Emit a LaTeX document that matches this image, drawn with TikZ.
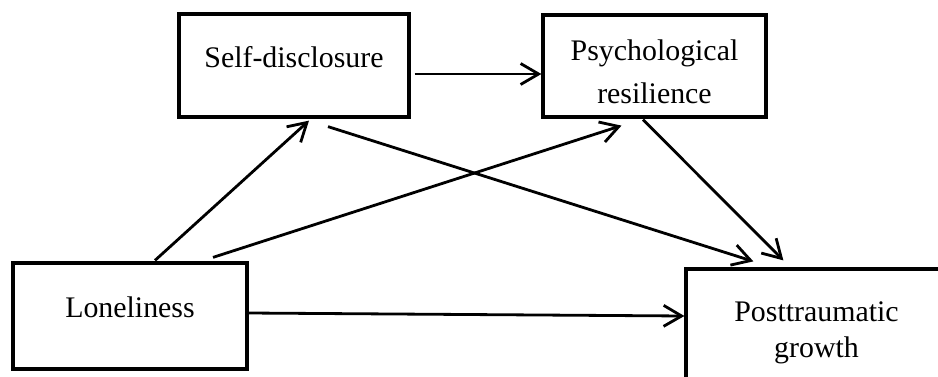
\documentclass[tikz,border=0pt]{standalone}
\usepackage{fontspec}
\setmainfont{Liberation Serif}
\usetikzlibrary{arrows.meta}

\begin{document}
\begin{tikzpicture}[
	every node/.style={font=\fontsize{17pt}{24.5pt}\selectfont},
	box/.style={draw, line width=0.065cm, inner sep=0pt},
	arr/.style={line width=0.056cm, -{Straight Barb[length=0.36cm, width=0.42cm]}}]
	\useasboundingbox (0,0) rectangle (18.76,7.52);
	\clip (0,0) rectangle (18.76,7.52);
	% boxes
	\node[box, minimum width=4.6cm, minimum height=2.06cm, text height=0.4cm, text depth=0.33cm] (self) at (5.88,6.21) {Self-disclosure};
	\node[box, minimum width=4.46cm, minimum height=2.04cm, align=center] (psych) at (13.09,6.2) {\rule{0pt}{0.64cm}Psychological\\resilience};
	\node[box, minimum width=4.68cm, minimum height=2.12cm, text height=0.4cm, text depth=0.33cm] (lone) at (2.6,1.2) {Loneliness};
	\node[box, minimum width=5.22cm, minimum height=2.56cm, align=center, font=\fontsize{17pt}{20.5pt}\selectfont] (ptg) at (16.33,0.86) {Posttraumatic\\growth};
	% paths
	\coordinate (sp) at ([xshift=0.08cm, yshift=-0.17cm]self.east);
	\draw[arr] (sp) -- (sp -| psych.west);
	\draw[arr] ([xshift=0.5cm, yshift=0.02cm]lone.north) -- ([xshift=0.3cm, yshift=-0.04cm]self.south);
	\draw[arr] ([xshift=1.66cm, yshift=0.08cm]lone.north) -- ([xshift=-0.66cm, yshift=-0.14cm]psych.south);
	\draw[arr] ([xshift=0.68cm, yshift=-0.16cm]self.south) -- ([xshift=1.38cm, yshift=0.12cm]ptg.north west);
	\draw[arr] ([xshift=-0.23cm, yshift=-0.02cm]psych.south) -- ([xshift=1.98cm, yshift=0.14cm]ptg.north west);
	\draw[arr] ([yshift=0.06cm]lone.east) -- ([yshift=0.34cm]ptg.west);
\end{tikzpicture}
\end{document}
